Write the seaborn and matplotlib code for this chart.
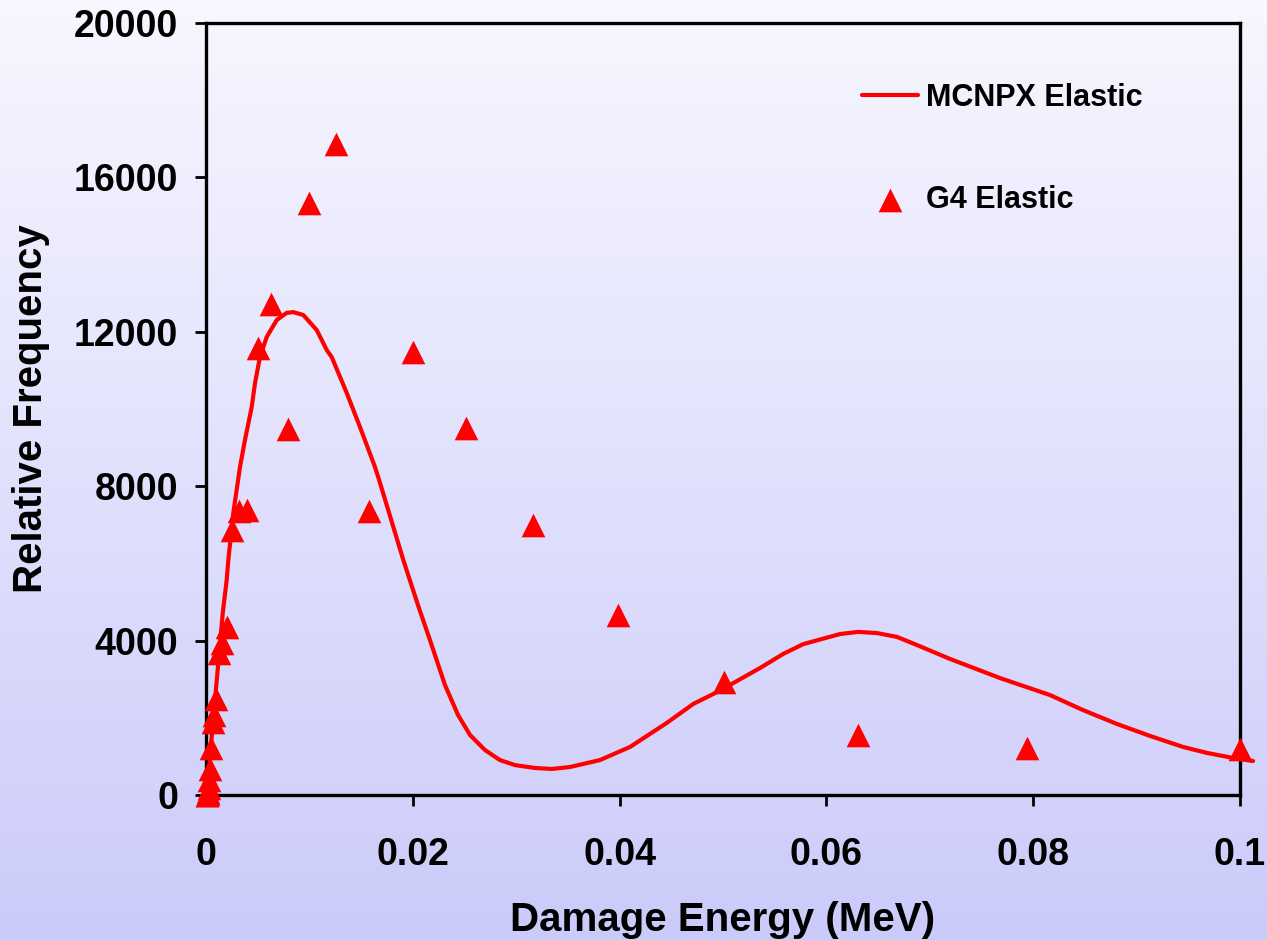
import numpy as np
import pandas as pd
import matplotlib
matplotlib.use("Agg")
import matplotlib.pyplot as plt
import seaborn as sns

# MCNPX elastic damage-energy spectrum (smoothed curve)
mcnpx_energy = [0.0001, 0.00055, 0.00119, 0.00162, 0.0020, 0.00216, 0.00264, 0.00329,
                0.00377, 0.00442, 0.00474, 0.00522, 0.00587, 0.00684, 0.00780, 0.00844,
                0.00941, 0.01071, 0.01167, 0.01216, 0.01361, 0.01489, 0.01634, 0.01683,
                0.01908, 0.0205, 0.02166, 0.02311, 0.02437, 0.02553, 0.02698, 0.02843,
                0.02988, 0.03182, 0.03346, 0.0352, 0.0381, 0.04101, 0.04455, 0.04713,
                0.04923, 0.051, 0.05358, 0.05583, 0.05777, 0.06132, 0.06306, 0.0649,
                0.06683, 0.06876, 0.07195, 0.07679, 0.08162, 0.08482, 0.0881, 0.0913,
                0.09449, 0.09681, 0.09932, 0.10126]
mcnpx_freq = [0, 1500, 3420, 4715, 5570, 6090, 7305, 8500,
              9200, 10050, 10670, 11350, 11865, 12305, 12490, 12510,
              12435, 12045, 11530, 11345, 10415, 9535, 8500, 8085,
              6090, 4920, 4015, 2850, 2075, 1555, 1165, 905,
              775, 700, 675, 725, 905, 1245, 1865, 2360,
              2640, 2900, 3290, 3655, 3910, 4170, 4225, 4195,
              4095, 3885, 3525, 3030, 2590, 2200, 1840, 1530,
              1245, 1090, 960, 880]

# Geant4 elastic results on logarithmic energy bins
g4_energy = [0.1, 0.0794, 0.0631, 0.0501, 0.0398, 0.0316, 0.0251, 0.0200,
             0.0158, 0.0126, 0.0100, 0.00794, 0.00631, 0.00501, 0.00398, 0.00316,
             0.00251, 0.00200, 0.00158, 0.00126, 0.00100, 0.000794, 0.000631, 0.000501,
             0.000398, 0.000316, 0.000251, 0.000200, 0.000158, 0.000126, 0.000100]
g4_freq = [1190, 1220, 1550, 2920, 4660, 6990, 9510, 11480,
           7360, 16860, 15340, 9480, 12720, 11580, 7380, 7360,
           6870, 4360, 3940, 3680, 2490, 2070, 1890, 1220,
           670, 390, 180, 80, 30, 10, 5]

x_ticks = [0, 0.02, 0.04, 0.06, 0.08, 0.1]
x_tick_labels = ["0", "0.02", "0.04", "0.06", "0.08", "0.1"]
y_ticks = [0, 4000, 8000, 12000, 16000, 20000]
y_tick_labels = ["0", "4000", "8000", "12000", "16000", "20000"]

sns.set_theme(style="white")
plt.rcParams["font.family"] = ["Liberation Sans", "DejaVu Sans"]
plt.rcParams["font.weight"] = "bold"
plt.rcParams["text.color"] = "black"

fig = plt.figure(figsize=(12.67, 9.40), dpi=100)

# vertical white-to-lavender backdrop
bg = fig.add_axes([0, 0, 1, 1], zorder=-10)
top_c = np.array([247, 247, 255]) / 255.0
bot_c = np.array([203, 203, 250]) / 255.0
t = np.linspace(0, 1, 256)[:, None]
grad = (top_c[None, :] * (1 - t) + bot_c[None, :] * t)[:, None, :]
bg.imshow(grad, aspect="auto", extent=[0, 1, 0, 1], origin="upper")
bg.set_axis_off()

ax = fig.add_axes([206 / 1267, 145 / 940, 1034 / 1267, 772 / 940])
ax.set_facecolor("none")

red = "#FF0000"
curve_df = pd.DataFrame({"energy": mcnpx_energy, "freq": mcnpx_freq})
g4_df = pd.DataFrame({"energy": g4_energy, "freq": g4_freq})

sns.lineplot(data=curve_df, x="energy", y="freq", sort=False, estimator=None,
             color=red, linewidth=3, label="MCNPX Elastic", ax=ax, zorder=3)
sns.scatterplot(data=g4_df, x="energy", y="freq", marker="^", s=290, color=red,
                linewidth=0, label="G4 Elastic", ax=ax, zorder=4)
for artist in ax.lines + ax.collections:
    artist.set_clip_on(False)

ax.set_xlim(0, 0.1)
ax.set_ylim(0, 20000)
ax.set_xticks(x_ticks)
ax.set_xticklabels(x_tick_labels)
ax.set_yticks(y_ticks)
ax.set_yticklabels(y_tick_labels)

for side in ["left", "right", "top", "bottom"]:
    ax.spines[side].set_visible(True)
    ax.spines[side].set_color("black")
    ax.spines[side].set_linewidth(2.4)

ax.tick_params(axis="x", direction="out", length=8, width=2, pad=22,
               labelsize=27, colors="black", bottom=True, top=False)
ax.tick_params(axis="y", direction="out", length=8, width=2, pad=12,
               labelsize=27, colors="black", left=True, right=False)
for lab in ax.get_xticklabels() + ax.get_yticklabels():
    lab.set_fontweight("bold")

ax.set_xlabel("Damage Energy (MeV)", fontsize=29, fontweight="bold", color="black")
ax.set_ylabel("Relative Frequency", fontsize=29, fontweight="bold", color="black")
ax.xaxis.set_label_coords(0.5, -0.137)
ax.yaxis.set_label_coords(-0.151, 0.5)

leg = ax.legend(loc="upper left", bbox_to_anchor=(862 / 1267, 1 - 83 / 940),
                bbox_transform=fig.transFigure, frameon=False, borderpad=0,
                borderaxespad=0, handlelength=1.83, handletextpad=0.26,
                labelspacing=2.35, prop={"weight": "bold", "size": 22})
for txt in leg.get_texts():
    txt.set_color("black")
for h in leg.legend_handles:
    if hasattr(h, "set_sizes"):
        h.set_sizes([290])

fig.savefig("out.png", dpi=100)
